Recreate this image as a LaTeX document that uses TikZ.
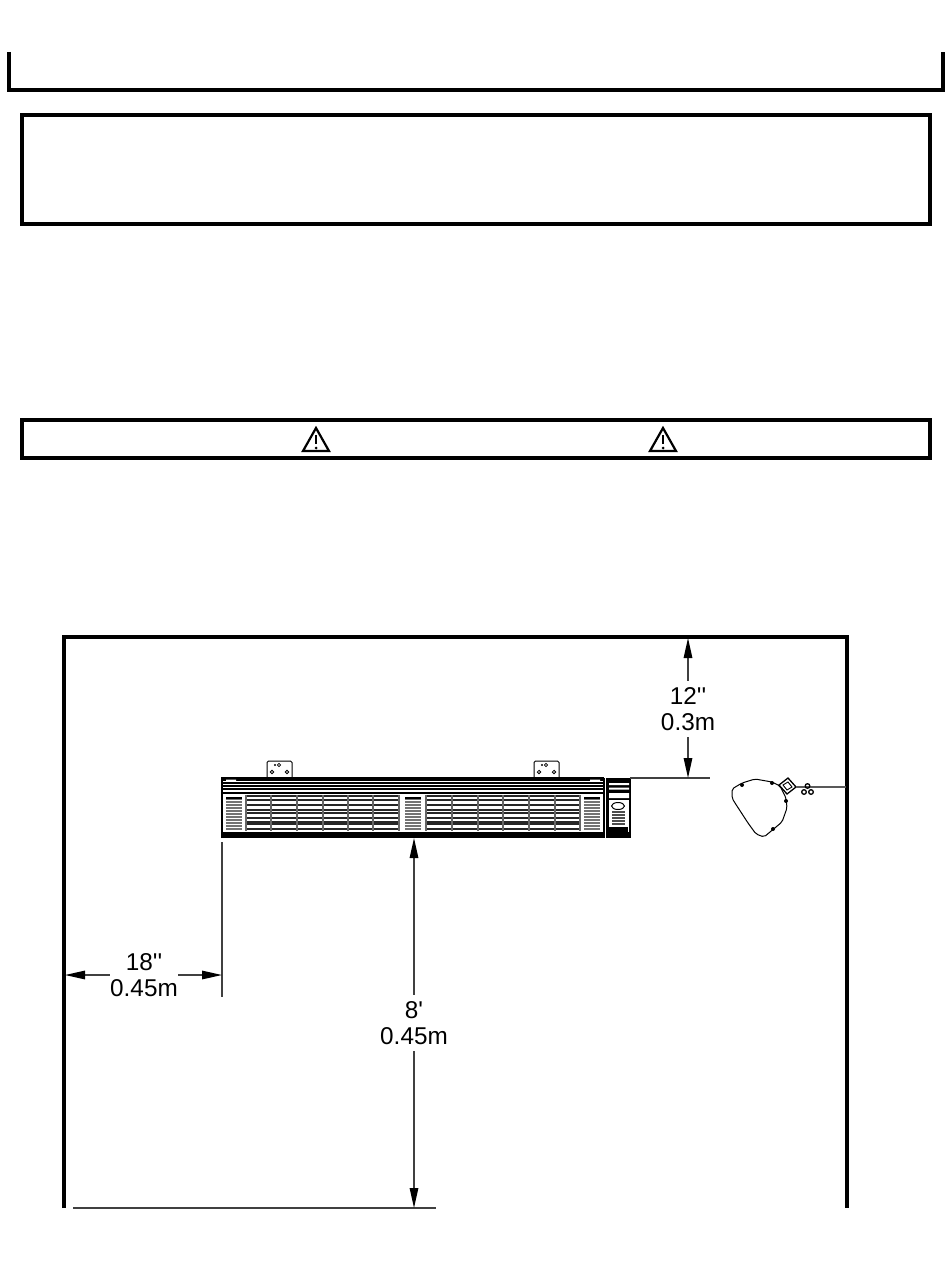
\documentclass[tikz,border=0pt]{standalone}
\usepackage{fontspec}
\newfontfamily\dimfont{Liberation Sans}
\usetikzlibrary{arrows.meta}
\tikzset{
  frameline/.style={line width=3.2pt},
  dimline/.style={line width=1.4pt,black!75,{Triangle[length=20pt,width=8.5pt,color=black]}-},
  extline/.style={line width=1.3pt,black!75},
  dimlabel/.style={font=\dimfont\fontsize{24.3}{26.5}\selectfont,align=center,inner xsep=0pt,inner ysep=5.5pt},
  louver/.style={line width=1.5pt,black!85},
  finline/.style={line width=1.5pt,black!60},
  holemark/.style={line width=0.8pt}
}
\begin{document}
\begin{tikzpicture}[x=1pt,y=-1pt]
  \useasboundingbox (0,0) rectangle (950,1276);
  \draw[frameline] (9,52) -- (9,90) -- (943,90) -- (943,52);
  \draw[frameline] (22,115) rectangle (930,224);
  \draw[frameline] (22,420) rectangle (930,458);
  \foreach \tx in {316,663} {
    \draw[line width=2.2pt,line join=miter] (\tx,428) -- (\tx+13,451) -- (\tx-13,451) -- cycle;
    \draw[line width=2.6pt] (\tx,435) -- (\tx,444);
    \fill (\tx,448) circle (1.5);
  }
  \draw[frameline] (64,1208) -- (64,637) -- (847,637) -- (847,1208);
  \coordinate (floorleft) at (73,1208);
  \coordinate (floorright) at (436,1208);
  \draw[line width=1.3pt,black!75] (floorleft) -- (floorright);

  \foreach \bx in {267,534} {
    \draw[line width=1pt,rounded corners=1.5pt] (\bx,778) -- (\bx,761) -- (\bx+25,761) -- (\bx+25,778);
    \draw[holemark] (\bx+5,772) circle (1.7) (\bx+20,772) circle (1.7) (\bx+12,765) circle (1.6);
    \fill (\bx+8,765) circle (1.1);
  }
  \coordinate (heatertop) at (630,778);
  \coordinate (heaterbot) at (414,838);
  \coordinate (heaterleft) at (222,842);
  \draw[line width=1.6pt] (222,838) -- (222,778) -- (604,778);
  \fill (222,832) rectangle (604,838);
  \foreach \ly/\lw in {780/1.5,783/1.2,786/1.4,789/1.2,793/2}
    \draw[line width=\lw pt] (222,\ly) -- (604,\ly);
  \fill[white] (226,779.5) rectangle (236,781.5) (590,779.5) rectangle (600,781.5);
  \foreach \gx in {246,271,297,323,348,373,426,452,478,503,529,555} {
    \foreach \ly in {796,800,805,810,813,818,822,824,829}
      \draw[louver] (\gx,\ly) -- (\gx+26,\ly);
    \draw[finline] (\gx,795) -- (\gx,831);
  }
  \draw[finline] (399,795) -- (399,831) (580,795) -- (580,831);
  \foreach \vx in {226,405,584} {
    \fill[black!55] (\vx,798) rectangle (\vx+16,831);
    \foreach \ly in {800,803,...,830}
      \draw[line width=0.8pt,white] (\vx,\ly) -- (\vx+16,\ly);
    \draw[line width=1.5pt] (\vx,798) -- (\vx+16,798);
  }
  \draw[line width=1.2pt] (604,778) -- (604,838) (607,778) -- (607,838);
  \fill (607,778) rectangle (631,838);
  \fill[white] (609,783) rectangle (629,785) (609,787.5) rectangle (629,789.5) (609,793) rectangle (629,798);
  \fill[white] (609,800) rectangle (629,832);
  \draw[line width=1pt] (618,806) ellipse (6.5 and 3.5);
  \foreach \ly in {812,815,...,824}
    \draw[line width=1.8pt,black!70] (612,\ly) -- (625,\ly);
  \fill (609,827) rectangle (628,833);
  \draw[extline] (heatertop) -- (710,778);
  \coordinate (ceiling) at (688,638);
  \coordinate (clearright) at (688,778);
  \coordinate (wallleft) at (65,975);
  \coordinate (clearleft) at (222,975);
  \coordinate (floorpt) at (414,1208);
  \draw[extline] (heaterleft) -- (222,997);

  \node[dimlabel] (toplabel) at (688,709) {12''\\0.3m};
  \node[dimlabel] (leftlabel) at (144,975) {18''\\0.45m};
  \node[dimlabel] (heightlabel) at (414,1023) {8'\\0.45m};
  \draw[dimline] (ceiling) -- (toplabel);
  \draw[dimline] (clearright) -- (toplabel);
  \draw[dimline] (wallleft) -- (leftlabel);
  \draw[dimline] (clearleft) -- (leftlabel);
  \draw[dimline] (heaterbot) -- (heightlabel);
  \draw[dimline] (floorpt) -- (heightlabel);

  \draw[line width=1pt,rounded corners=2pt] (732,789) -- (742,783) -- (755,779) -- (772,782) -- (780,786)
    -- (786,798) -- (787,808) -- (782,822) -- (764,837) -- (756,834) -- (748,823) -- (735,803) -- (732,798) -- cycle;
  \fill (742,785) circle (2) (772,783) circle (2) (786,801) circle (2) (773,829) circle (2);
  \draw[line width=1.3pt] (779,785) -- (788,778) -- (796,787) -- (787,794) -- cycle;
  \draw[line width=0.9pt] (783,785) -- (788,782) -- (792,787) -- (787,790) -- cycle;
  \draw[line width=2.4pt,black!65] (796,787) -- (846,787);
  \draw[line width=1.3pt] (804,792) circle (2.3) (811,792) circle (2.3) (807.5,786) circle (2.3);
\end{tikzpicture}
\end{document}
